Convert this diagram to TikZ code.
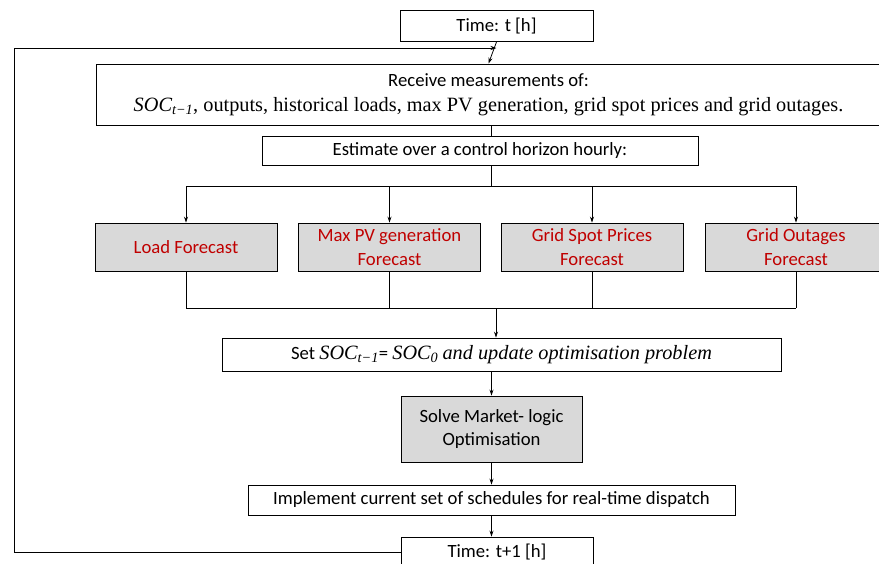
\documentclass[tikz,border=0pt]{standalone}
\usepackage{fontspec}
\setmainfont{Carlito}
\newfontfamily\serifm{Liberation Serif}
\newfontfamily\serifit{Liberation Serif Italic}
\usetikzlibrary{arrows.meta}
\definecolor{boxgray}{HTML}{D9D9D9}
\definecolor{fcred}{HTML}{C00000}
\newcommand\socx[1]{{\serifit SOC\textsubscript{#1}}}
\newcommand\serifsize{\fontsize{20.3}{23}\selectfont}
\begin{document}
\begin{tikzpicture}[x=1pt,y=-1pt,
  box/.style={draw, line width=0.9pt, inner sep=0pt, align=center, font=\fontsize{18.7}{23.5}\selectfont},
  fc/.style={box, fill=boxgray, text=fcred, minimum width=182, minimum height=48},
  arr/.style={-{Stealth[length=6pt,width=4pt]}, line width=0.8pt},
  ln/.style={line width=0.8pt}]
\useasboundingbox (0,0) rectangle (879,563);

\node[box, minimum width=784, minimum height=61, font=\fontsize{18.7}{25}\selectfont] (rec) at (488.5,94.5)
  {Receive measurements of:\\ {\serifm\serifsize\socx{t−1}, outputs, historical loads, max PV generation, grid spot prices and grid outages.}};
\node[box, minimum width=193, minimum height=31] (t0) at (496.5,26) {Time: t [h]};
\node[box, minimum width=436, minimum height=29] (est) at (480,150.5) {Estimate over a control horizon hourly:};
\node[fc] (ld) at (186,247) {Load Forecast};
\node[fc] (pv) at (389.5,247) {Max PV generation\\Forecast};
\node[fc] (sp) at (592,247) {Grid Spot Prices\\Forecast};
\node[fc] (out) at (796,247) {Grid Outages\\Forecast};
\node[box, minimum width=559, minimum height=33] (set) at (501.5,354.5)
  {Set {\serifsize\socx{t−1}}= {\serifsize\socx{0}} {\serifit\serifsize and update optimisation problem}};
\node[box, fill=boxgray, minimum width=181, minimum height=66] (solve) at (491.5,429) {Solve Market- logic\\Optimisation};
\node[box, minimum width=487, minimum height=30] (imp) at (491.5,500) {Implement current set of schedules for real-time dispatch};
\node[box, minimum width=192, minimum height=30] (t1) at (497,552) {Time: t+1 [h]};

\coordinate (lp) at (496.5,48);
\coordinate (bx) at (491,0);
\coordinate (br) at (491,186);
\coordinate (mg) at (496,308);
\coordinate (lx) at (14,0);

\draw[arr] (t0.south) -- (rec.north);
\draw[arr] (t1.west) -| (lx |- lp) -- (lp);
\draw[ln] (rec.south -| bx) -- (est.north -| bx);
\draw[ln] (est.south -| br) -- (br);
\draw[ln] (br -| ld) -- (br -| out);
\foreach \n in {ld,pv,sp,out} {
  \draw[arr] (br -| \n) -- (\n.north);
  \draw[ln] (\n.south) -- (mg -| \n);
}
\draw[ln] (mg -| ld) -- (mg -| out);
\draw[arr] (mg) -- (set.north -| mg);
\draw[arr] (set.south -| solve) -- (solve.north);
\draw[arr] (solve.south) -- (imp.north -| solve);
\draw[arr] (imp.south -| solve) -- (t1.north -| solve);
\end{tikzpicture}
\end{document}
